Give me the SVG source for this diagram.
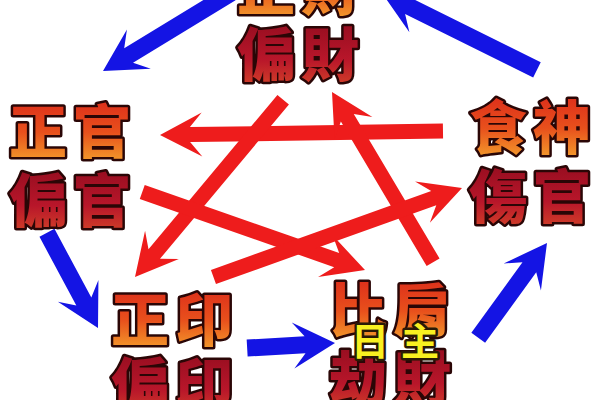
<svg xmlns="http://www.w3.org/2000/svg" width="600" height="400" viewBox="0 0 600 400">
<defs>
<linearGradient id="g1" x1="0" y1="0" x2="0" y2="1">
<stop offset="0" stop-color="#d8201a"/>
<stop offset="0.55" stop-color="#e8501c"/>
<stop offset="1" stop-color="#f6b030"/>
</linearGradient>
<linearGradient id="g2" x1="0" y1="0" x2="0" y2="1">
<stop offset="0" stop-color="#8a0a1c"/>
<stop offset="0.6" stop-color="#b8162a"/>
<stop offset="1" stop-color="#d84a28"/>
</linearGradient>
<style>
.t{font-family:"Noto Sans CJK TC","Noto Sans CJK SC",sans-serif;font-weight:900;font-size:58px;text-anchor:middle;letter-spacing:6px;stroke:#2a0606;stroke-width:5;stroke-linejoin:round;paint-order:stroke}
.a{fill:url(#g1)}
.b{fill:url(#g2)}
.y{font-family:"Noto Sans CJK TC","Noto Sans CJK SC",sans-serif;font-weight:700;font-size:38px;text-anchor:middle;letter-spacing:12px;fill:#f8f020;stroke:#2a1a06;stroke-width:5;stroke-linejoin:round;paint-order:stroke}
.r{fill:#ee1c1c}
.bl{fill:#1414e4}
</style>
</defs>
<rect width="600" height="400" fill="#ffffff"/>
<g id="connectors">
<polygon class="r" transform="translate(160,135) rotate(179.2)" points="0,0 -42,-22 -30,-7.5 -283,-7.5 -283,7.5 -30,7.5 -42,22"/>
<polygon class="r" transform="translate(135,277) rotate(129.9)" points="0,0 -42,-22 -30,-7.5 -231,-7.5 -231,7.5 -30,7.5 -42,22"/>
<polygon class="r" transform="translate(332,92) rotate(-120.7)" points="0,0 -42,-22 -30,-7.5 -198,-7.5 -198,7.5 -30,7.5 -42,22"/>
<polygon class="r" transform="translate(365,270) rotate(19.3)" points="0,0 -42,-22 -30,-7.5 -236,-7.5 -236,7.5 -30,7.5 -42,22"/>
<polygon class="r" transform="translate(462,188) rotate(-19.7)" points="0,0 -42,-22 -30,-7.5 -264,-7.5 -264,7.5 -30,7.5 -42,22"/>
<polygon class="bl" transform="translate(103,71) rotate(148.7)" points="0,0 -42,-23 -30,-8.5 -150,-8.5 -150,8.5 -30,8.5 -42,23"/>
<polygon class="bl" transform="translate(382,-7) rotate(-153.6)" points="0,0 -42,-23 -30,-8.5 -173,-8.5 -173,8.5 -30,8.5 -42,23"/>
<polygon class="bl" transform="translate(98,328) rotate(61.8)" points="0,0 -42,-23 -30,-8.5 -108,-8.5 -108,8.5 -30,8.5 -42,23"/>
<polygon class="bl" transform="translate(335,343) rotate(-3.3)" points="0,0 -42,-23 -30,-8.5 -88,-8.5 -88,8.5 -30,8.5 -42,23"/>
<polygon class="bl" transform="translate(547,243) rotate(-54)" points="0,0 -42,-23 -30,-8.5 -117,-8.5 -117,8.5 -30,8.5 -42,23"/>
</g>
<g id="node-cai">
<text class="t a" x="301" y="10">正財</text>
<text class="t b" x="301" y="76">偏財</text>
</g>
<g id="node-guan">
<text class="t a" x="73" y="153">正官</text>
<text class="t b" x="73" y="222">偏官</text>
</g>
<g id="node-shi">
<text class="t a" x="533" y="149">食神</text>
<text class="t b" x="533" y="218">傷官</text>
</g>
<g id="node-yin">
<text class="t a" x="175" y="341">正印</text>
<text class="t b" x="175" y="406">偏印</text>
</g>
<g id="node-bi">
<text class="t a" x="393" y="332">比肩</text>
<text class="t b" x="393" y="400">劫財</text>
<text class="y" x="401" y="355">日主</text>
</g>
</svg>
